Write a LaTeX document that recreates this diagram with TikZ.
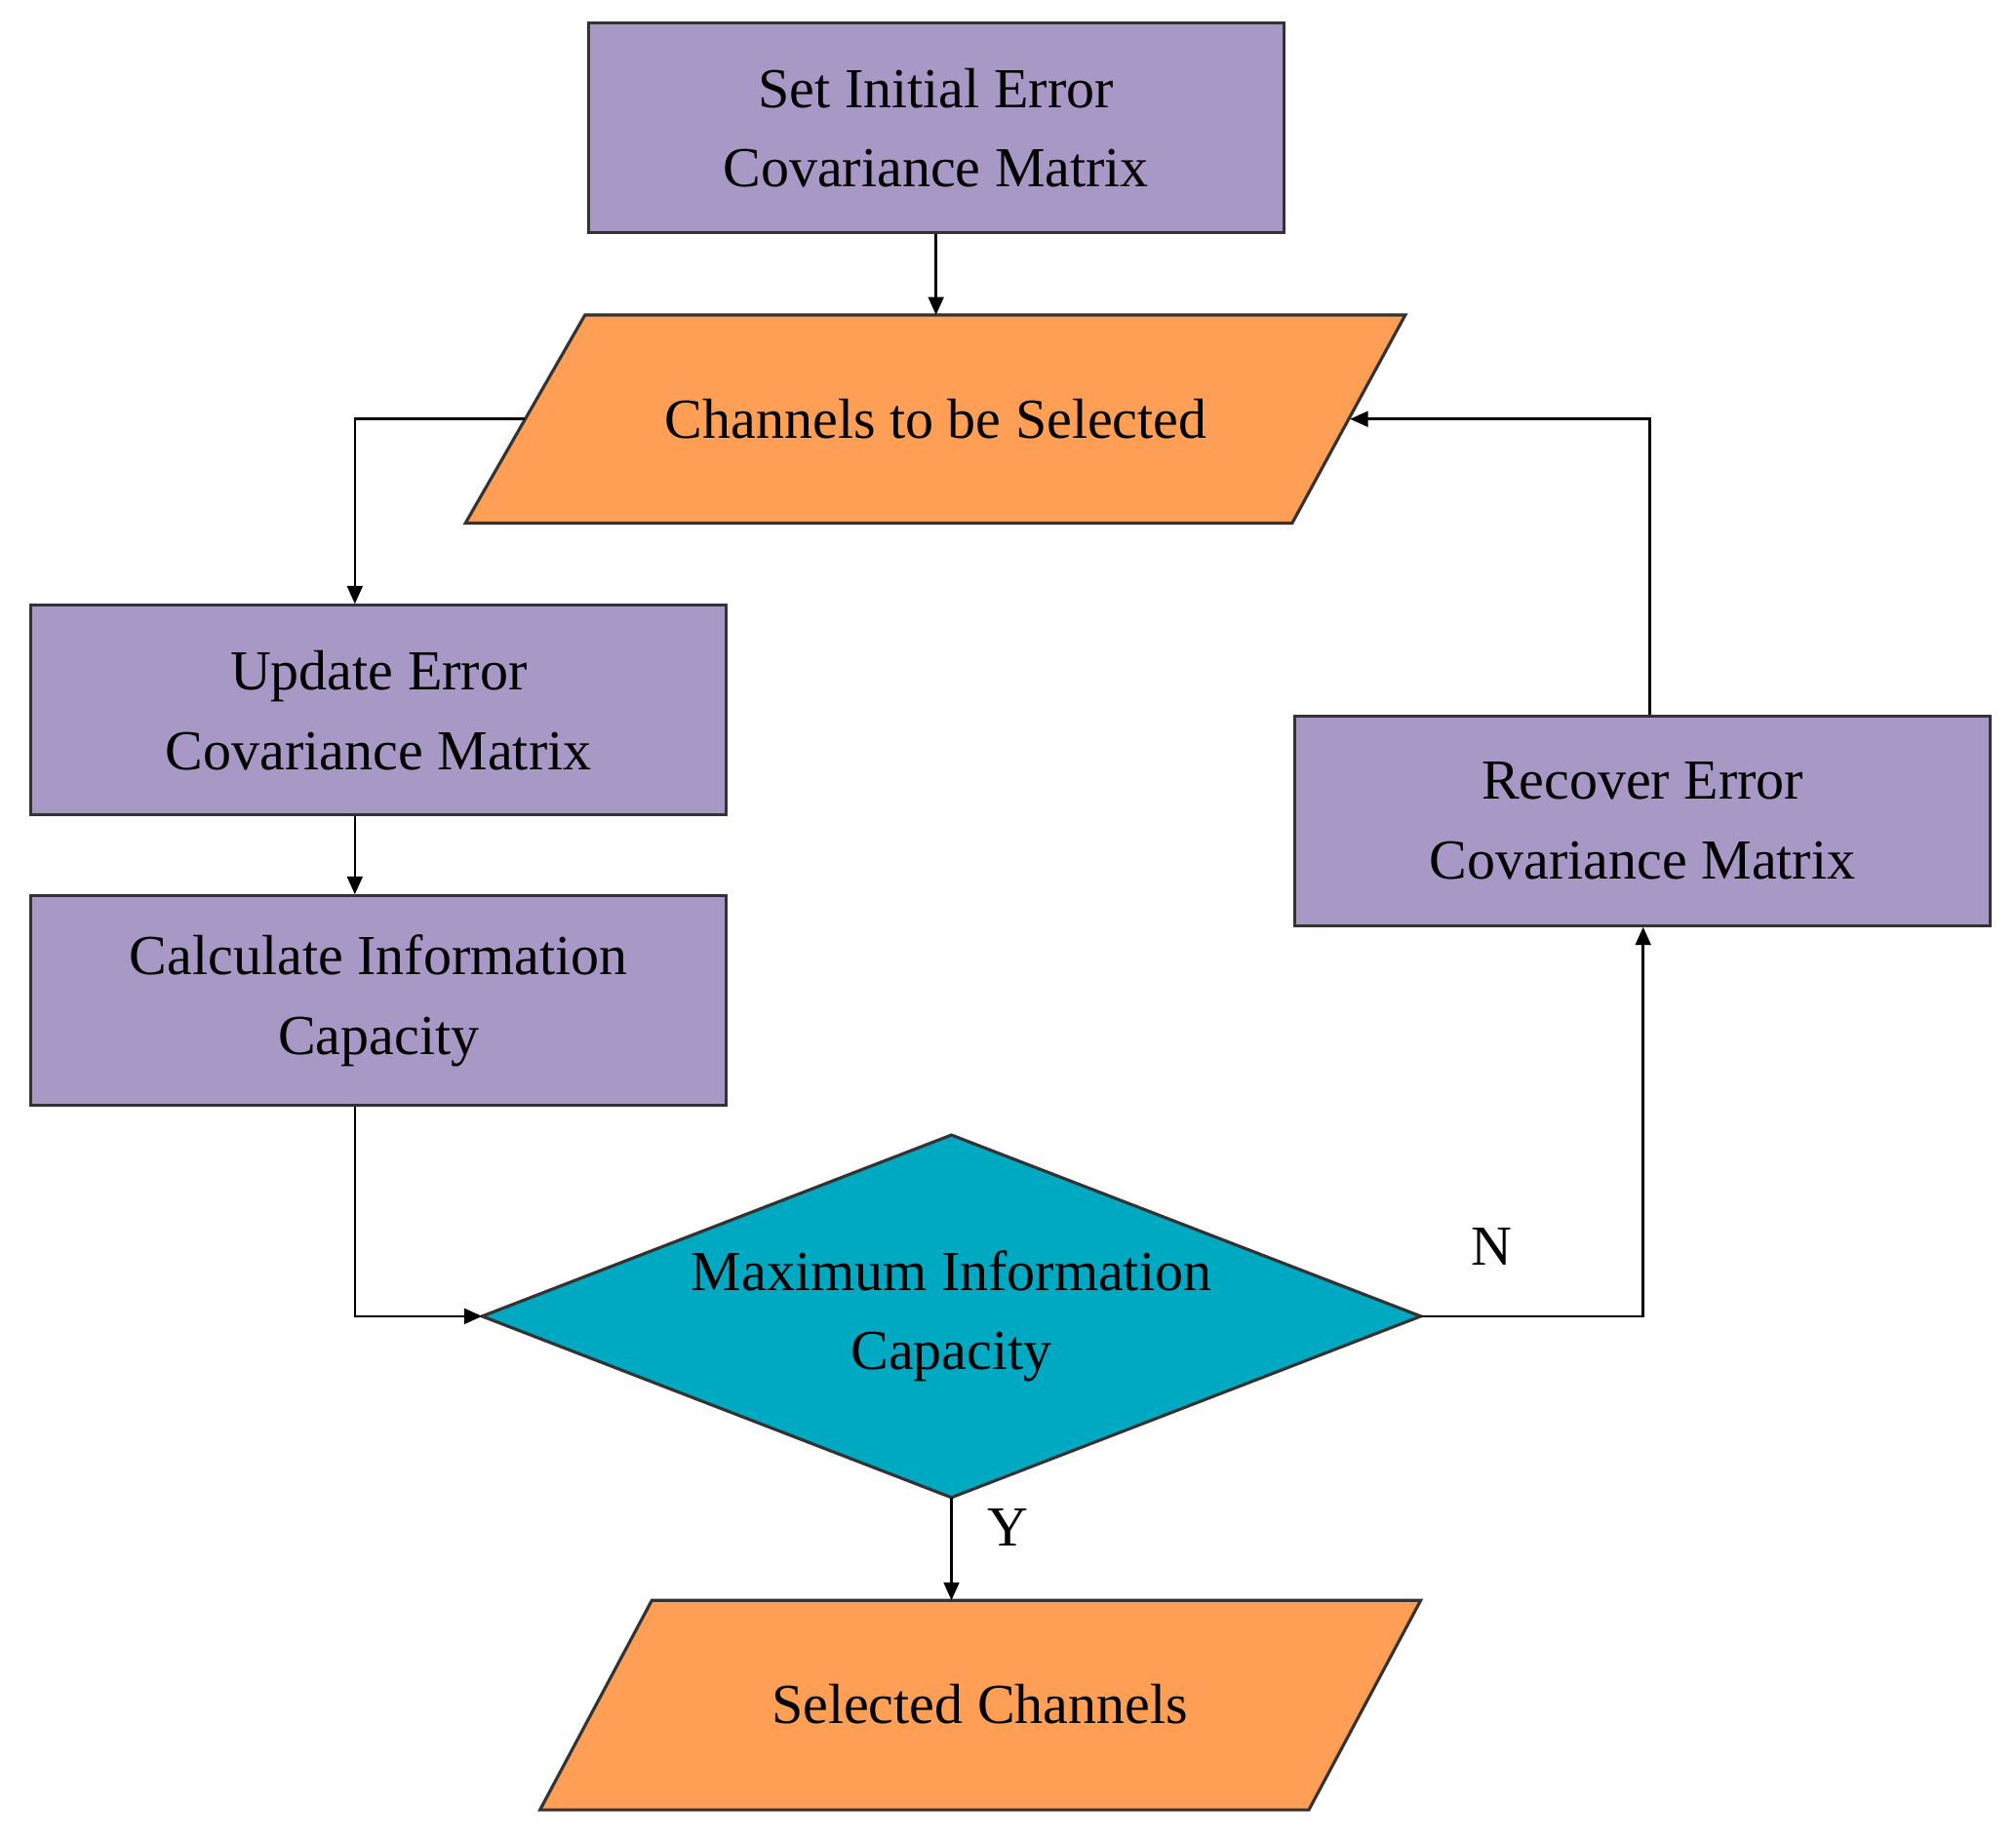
\documentclass[tikz,border=0pt]{standalone}
\usepackage{fontspec}
\setmainfont{Liberation Serif}
\usetikzlibrary{arrows.meta}
\definecolor{pur}{HTML}{A898C6}
\definecolor{ora}{HTML}{FF9E55}
\definecolor{tea}{HTML}{00A9C2}
\begin{document}
\begin{tikzpicture}[x=0.5pt,y=-0.5pt,
 box/.style={draw=black!80,line width=1.2pt,fill=pur,minimum width=270.5pt,minimum height=81.5pt,align=center,font=\fontsize{22}{31}\selectfont},
 shp/.style={draw=black!80,line width=1.2pt},
 txt/.style={font=\fontsize{22}{31}\selectfont,align=center},
 arr/.style={line width=1pt,-{Triangle[length=7pt,width=6pt]}}]
\useasboundingbox (0,0) rectangle (1568,1430);
\node[box] (a) at (728,99.5) {Set Initial Error\\Covariance Matrix};
\draw[shp,fill=ora] (455,245) -- (1093,245) -- (1005,407) -- (362,407) -- cycle;
\node[txt] (b) at (728,326) {Channels to be Selected};
\coordinate (bl) at (408,326); \coordinate (br) at (1050,326); \coordinate (bt) at (728,245);
\node[box] (u) at (294.5,552.5) {Update Error\\Covariance Matrix};
\node[box] (c) at (294.5,778.5) {Calculate Information\\Capacity};
\draw[shp,fill=tea] (375,1024) -- (740,883) -- (1105,1024) -- (740,1165) -- cycle;
\node[txt] (d) at (740,1024) {Maximum Information\\Capacity};
\coordinate (dl) at (375,1024); \coordinate (dr) at (1105,1024); \coordinate (db) at (740,1165);
\node[box] (r) at (1277.5,638.5) {Recover Error\\Covariance Matrix};
\draw[shp,fill=ora] (507,1245) -- (1105,1245) -- (1018,1408) -- (420,1408) -- cycle;
\node[txt] (s) at (762,1326) {Selected Channels};
\coordinate (st) at (740,1245);
\draw[arr] (a.south) -- (bt);
\draw[arr] (bl) -- (276,326) -- (u.north -| 276,0);
\draw[arr] (u.south -| 276,0) -- (c.north -| 276,0);
\draw[arr] (c.south -| 276,0) -- (276,1024) -- (dl);
\draw[arr] (dr) -- (1278,1024) -- (r.south -| 1278,0);
\draw[arr] (r.north -| 1283,0) -- (1283,326) -- (br);
\draw[arr] (db) -- (st);
\node[txt] (n) at (1160,970) {N};
\node[txt] (y) at (784,1188) {Y};
\end{tikzpicture}
\end{document}
